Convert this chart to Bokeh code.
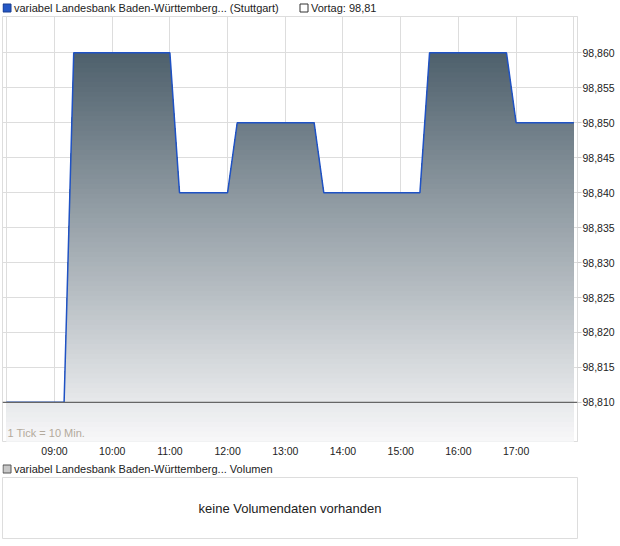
import numpy as np
from bokeh.plotting import figure
from bokeh.models import (Range1d, FixedTicker, CustomJSTickFormatter, Span, Label)
from bokeh.layouts import column
from bokeh.core.properties import value
from bokeh.embed import file_html
from bokeh.resources import INLINE

# ---------------- data ----------------
times = ["08:10", "09:10", "09:20", "11:00", "11:10", "12:00", "12:10",
         "13:30", "13:40", "15:20", "15:30", "16:50", "17:00", "18:00"]
prices = [98.81, 98.81, 98.86, 98.86, 98.84, 98.84, 98.85,
          98.85, 98.84, 98.84, 98.86, 98.86, 98.85, 98.85]
prev_close = 98.81
y_ticks = [98.810, 98.815, 98.820, 98.825, 98.830, 98.835,
           98.840, 98.845, 98.850, 98.855, 98.860]
x_tick_labels = ["09:00", "10:00", "11:00", "12:00", "13:00",
                 "14:00", "15:00", "16:00", "17:00"]
grid_times = ["08:10", "09:00", "10:00", "11:00", "12:00", "13:00",
              "14:00", "15:00", "16:00", "17:00", "18:00"]
series_label = "variabel Landesbank Baden-Württemberg... (Stuttgart)"
prev_label = "Vortag: 98,81"
volume_label = "variabel Landesbank Baden-Württemberg... Volumen"
no_volume_text = "keine Volumendaten vorhanden"
tick_note = "1 Tick = 10 Min."


def to_h(s):
    h, m = s.split(":")
    return int(h) + int(m) / 60.0


FONT = "Liberation Sans"
GRID = "#dddddd"
FW = 575          # frame width shared by all panels (frames are aligned)

x = np.array([to_h(t) for t in times])
y = np.array(prices)

x0, x1 = 8.099, 18.064
y0, y1 = 98.8044, 98.8652


def legend_row(entries):
    """entries: list of (x_square_center, fill, line, text) in frame pixels"""
    f = figure(frame_width=FW, frame_height=15, x_range=Range1d(0, FW),
               y_range=Range1d(0, 15), x_axis_location=None, y_axis_location=None,
               output_backend="svg", toolbar_location=None, min_border=0)
    f.grid.visible = False
    f.outline_line_color = None
    for cx, fill, line, txt in entries:
        f.rect(x=[cx], y=[7.5], width=8, height=8, width_units="screen",
               height_units="screen", fill_color=fill, line_color=line, line_width=1)
        f.text(x=[cx + 7], y=[7.5], text=[txt], text_font=value(FONT),
               text_font_size="11px", text_color="#222222", text_baseline="middle",
               text_align="left")
    return f


top_legend = legend_row([(4.5, "#2457c5", "#1a3f8f", series_label),
                         (301.5, "white", "#333333", prev_label)])

p = figure(frame_width=FW, frame_height=425, x_range=Range1d(x0, x1),
           y_range=Range1d(y0, y1), y_axis_location="right", output_backend="svg",
           toolbar_location=None, min_border_left=2, min_border_right=0,
           min_border_top=1, min_border_bottom=20)
p.outline_line_color = GRID
p.background_fill_color = "white"

# gradient fill below the curve, drawn as stacked bands (top band first)
N = 80
top = float(np.max(y))
levels = np.linspace(y0, top, N + 1)
c_top = np.array([78, 96, 108])
c_bot = np.array([248, 248, 249])


def crossings(L):
    out = []
    for i in range(len(x) - 1):
        fa, fb = y[i], y[i + 1]
        if fa != fb and min(fa, fb) < L < max(fa, fb):
            out.append(x[i] + (L - fa) / (fb - fa) * (x[i + 1] - x[i]))
    return out


for k in range(N, 0, -1):
    b = levels[k]
    mid = 0.5 * (levels[k - 1] + levels[k])
    fr = (mid - y0) / (top - y0)
    col = c_bot + (c_top - c_bot) * fr
    color = "#%02x%02x%02x" % tuple(int(round(c)) for c in col)
    xs = np.unique(np.concatenate([x, crossings(b)]))
    fy = np.interp(xs, x, y)
    upper = np.minimum(fy, b)
    lower = np.full_like(xs, y0)
    p.varea(x=xs, y1=lower, y2=upper, fill_color=color, fill_alpha=1.0)

p.line(x, y, line_color="#1f52c4", line_width=1.5)

p.add_layout(Span(location=prev_close, dimension="width", line_color="#666666",
                  line_width=1.3))

# axes
p.xaxis.ticker = FixedTicker(ticks=[to_h(t) for t in x_tick_labels])
p.xaxis.major_label_overrides = {int(round(to_h(t))): t for t in x_tick_labels}
p.xaxis.axis_line_color = None
p.xaxis.major_tick_line_color = None
p.xaxis.major_tick_out = 0
p.xaxis.major_tick_in = 0
p.xaxis.minor_tick_line_color = None
p.xaxis.minor_tick_out = 0
p.xaxis.major_label_standoff = 3
p.xaxis.major_label_text_font = FONT
p.xaxis.major_label_text_font_size = "10.5px"
p.xaxis.major_label_text_color = "#222222"

p.yaxis.ticker = FixedTicker(ticks=y_ticks)
p.yaxis.formatter = CustomJSTickFormatter(code="return tick.toFixed(3).replace('.', ',');")
p.yaxis.axis_line_color = GRID
p.yaxis.major_tick_line_color = "#cfcfcf"
p.yaxis.major_tick_out = 4
p.yaxis.major_tick_in = 0
p.yaxis.minor_tick_line_color = None
p.yaxis.minor_tick_out = 0
p.yaxis.major_label_standoff = 1
p.yaxis.major_label_text_font = FONT
p.yaxis.major_label_text_font_size = "10.5px"
p.yaxis.major_label_text_color = "#222222"

p.xgrid.ticker = FixedTicker(ticks=[to_h(t) for t in grid_times])
p.xgrid.grid_line_color = GRID
p.ygrid.ticker = FixedTicker(ticks=y_ticks)
p.ygrid.grid_line_color = GRID

p.add_layout(Label(x=x0, y=y0, x_offset=5, y_offset=3, text=tick_note, text_font=FONT,
                   text_font_size="11px", text_color="#b3aa9c", text_baseline="bottom"))

# ---------------- volume panel ----------------
vol_legend = legend_row([(4.5, "#c8c8c8", "#555555", volume_label)])

v = figure(frame_width=FW, frame_height=61, x_range=Range1d(0, 1), y_range=Range1d(0, 1),
           x_axis_location=None, y_axis_location=None, output_backend="svg",
           toolbar_location=None, min_border_left=2, min_border_right=1,
           min_border_top=1, min_border_bottom=1)
v.grid.visible = False
v.outline_line_color = GRID
v.add_layout(Label(x=0.5, y=0.5, text=no_volume_text, text_align="center",
                   text_baseline="middle", text_font=FONT, text_font_size="13px",
                   text_color="#222222"))

layout = column(top_legend, p, vol_legend, v, spacing=0)
open("out.html", "w").write(file_html(layout, INLINE))
